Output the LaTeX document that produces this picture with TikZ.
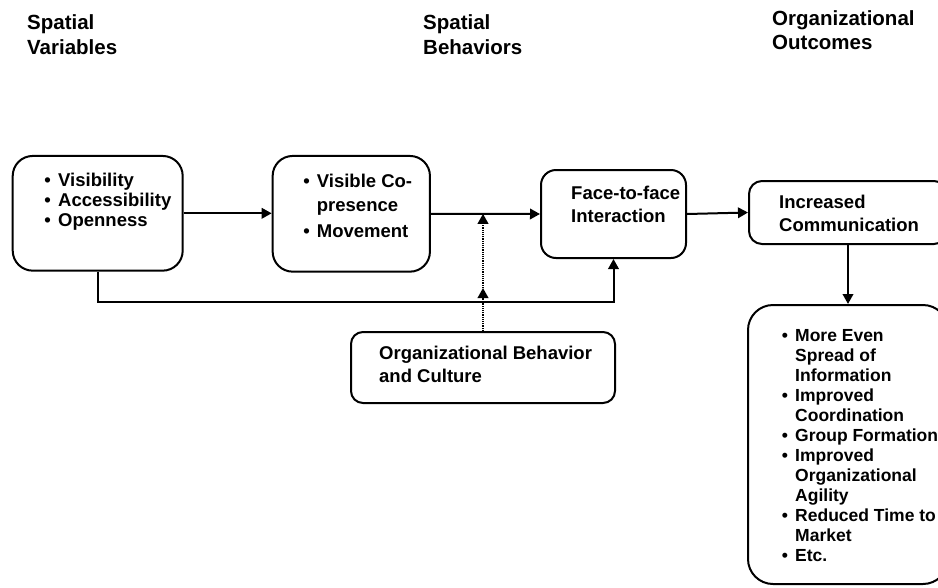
\documentclass[tikz,border=0pt]{standalone}
\usepackage{fontspec}
\setmainfont{Liberation Sans}
\usetikzlibrary{arrows.meta}
\begin{document}
\begin{tikzpicture}[x=1pt,y=-1pt,
  box/.style={draw, line width=2pt, inner sep=0pt, outer sep=1pt},
  hdr/.style={font=\fontsize{20.5}{25}\selectfont\bfseries, inner sep=0pt, anchor=base west},
  txt/.style={font=\fontsize{18.5}{20}\selectfont\bfseries, inner sep=0pt, anchor=base west},
  sml/.style={font=\fontsize{17.5}{20}\selectfont\bfseries, inner sep=0pt, anchor=base west},
  bul/.style={font=\fontsize{18.5}{20}\selectfont\bfseries, inner sep=0pt, anchor=base},
  sbul/.style={font=\fontsize{17.5}{20}\selectfont\bfseries, inner sep=0pt, anchor=base},
  arr/.style={line width=2pt, -{Triangle[length=10pt,width=10.5pt]}},
  dotarr/.style={line width=2pt, dash pattern=on 1.2pt off 1pt, -{Triangle[length=10pt,width=10.5pt]}}]
\useasboundingbox (0,0) rectangle (938,587);

% headers
\node[hdr] (h1a) at (27,29) {Spatial};
\node[hdr] (h1b) at (27,54) {Variables};
\node[hdr] (h2a) at (423,29) {Spatial};
\node[hdr] (h2b) at (423,54) {Behaviors};
\node[hdr] (h3a) at (772,25) {Organizational};
\node[hdr] (h3b) at (772,49) {Outcomes};

% boxes
\node[box, rounded corners=20pt, minimum width=170pt, minimum height=114.7pt] (b1) at (97.7,213.3) {};
\node[box, rounded corners=20pt, minimum width=157.3pt, minimum height=115.7pt] (b2) at (351.3,213.8) {};
\node[box, rounded corners=15pt, minimum width=145pt, minimum height=88pt] (b3) at (613.5,214) {};
\node[box, rounded corners=13pt, minimum width=198pt, minimum height=63pt] (b4) at (848,212.5) {};
\node[box, rounded corners=25pt, minimum width=200pt, minimum height=279pt] (b5) at (848,444.5) {};
\node[box, rounded corners=12pt, minimum width=264pt, minimum height=71pt] (b6) at (483,367.5) {};

% box 1 text
\node[bul] (b1u1) at (47.5,186) {•};
\node[txt] (b1t1) at (58,186) {Visibility};
\node[bul] (b1u2) at (47.5,206) {•};
\node[txt] (b1t2) at (58,206) {Accessibility};
\node[bul] (b1u3) at (47.5,226) {•};
\node[txt] (b1t3) at (58,226) {Openness};

% box 2 text
\node[bul] (b2u1) at (306.7,187) {•};
\node[txt] (b2t1) at (316.7,187) {Visible Co-};
\node[txt] (b2t2) at (316.7,211) {presence};
\node[bul] (b2u2) at (306.7,237) {•};
\node[txt] (b2t3) at (316.7,237) {Movement};

% box 3 text
\node[txt] (b3t1) at (571,199) {Face-to-face};
\node[txt] (b3t2) at (571,222) {Interaction};

% box 4 text
\node[txt] (b4t1) at (779,208) {Increased};
\node[txt] (b4t2) at (779,231) {Communication};

% box 6 text
\node[txt] (b6t1) at (379,359) {Organizational Behavior};
\node[txt] (b6t2) at (379,382) {and Culture};

% box 5 text
\node[sbul] (b5u1) at (785,341) {•};
\node[sml] (b5t1) at (795,341) {More Even};
\node[sml] (b5t2) at (795,361) {Spread of};
\node[sml] (b5t3) at (795,381) {Information};
\node[sbul] (b5u2) at (785,401) {•};
\node[sml] (b5t4) at (795,401) {Improved};
\node[sml] (b5t5) at (795,421) {Coordination};
\node[sbul] (b5u3) at (785,441) {•};
\node[sml] (b5t6) at (795,441) {Group Formation};
\node[sbul] (b5u4) at (785,461) {•};
\node[sml] (b5t7) at (795,461) {Improved};
\node[sml] (b5t8) at (795,481) {Organizational};
\node[sml] (b5t9) at (795,501) {Agility};
\node[sbul] (b5u5) at (785,521) {•};
\node[sml] (b5t10) at (795,521) {Reduced Time to};
\node[sml] (b5t11) at (795,541) {Market};
\node[sbul] (b5u6) at (785,561) {•};
\node[sml] (b5t12) at (795,561) {Etc.};

% connectors
\coordinate (low) at (0,301.7);
\coordinate (dmid) at (0,288);
\draw[arr] (b1.east) -- (b1.east -| b2.west);
\draw[arr] (b2.east) -- (b3.west);
\draw[arr] (b3.east) -- (b4.west);
\draw[arr] (b4.south) -- (b5.north);
\draw[arr] (b1.south) |- (low -| b3.south) -- (b3.south);
\draw[dotarr] (b6.north) -- (b6.north |- dmid);
\draw[dotarr] (b6.north |- dmid) -- (b6.north |- b2.east);
\end{tikzpicture}
\end{document}
